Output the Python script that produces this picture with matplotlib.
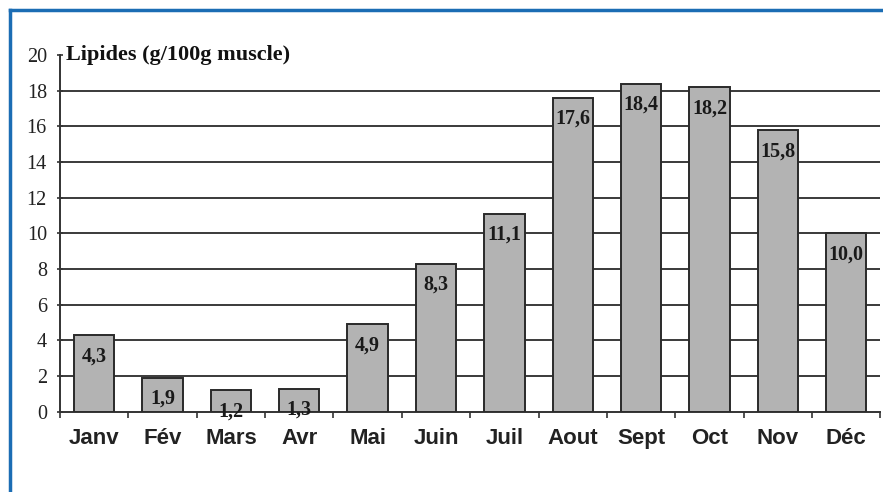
import matplotlib.pyplot as plt
from matplotlib.lines import Line2D

months = ["Janv", "Fév", "Mars", "Avr", "Mai", "Juin", "Juil",
          "Aout", "Sept", "Oct", "Nov", "Déc"]
lipides = [4.3, 1.9, 1.2, 1.3, 4.9, 8.3, 11.1, 17.6, 18.4, 18.2, 15.8, 10.0]
y_ticks = [0, 2, 4, 6, 8, 10, 12, 14, 16, 18, 20]

fig = plt.figure(figsize=(8.83, 4.92), dpi=100)
ax = fig.add_axes([0.068, 0.163, 0.929, 0.725])

x = range(len(months))
ax.bar(x, lipides, width=0.59, color="#b3b3b3", edgecolor="#2a2a2a",
       linewidth=1.4, zorder=3)

# value labels just under the top of each bar
for xi, v in zip(x, lipides):
    ax.annotate(f"{v:.1f}".replace(".", ","), (xi, v), xytext=(0, -8),
                textcoords="offset points", ha="center", va="top",
                fontsize=14.5, fontweight="bold", family="Liberation Serif",
                color="#1a1a1a", zorder=4)

ax.set_xlim(-0.5, len(months) - 0.5)
ax.set_ylim(0, 20)
ax.set_yticks(y_ticks)
ax.set_yticklabels([str(t) for t in y_ticks], family="Liberation Serif",
                   fontsize=14.5, color="#222222")
for t in y_ticks[1:-1]:
    ax.axhline(t, color="#3a3a3a", lw=1.4, zorder=1)

# ticks between categories, labels centred under bars
ax.set_xticks([i - 0.5 for i in range(len(months) + 1)])
ax.set_xticklabels([])
ax.set_xticks(list(x), minor=True)
ax.set_xticklabels(months, minor=True, family="Liberation Sans",
                   fontweight="bold", fontsize=16, color="#222222")
ax.tick_params(axis="x", which="minor", length=0, pad=12)
ax.tick_params(axis="x", which="major", length=4, width=1.2, color="#333333")
ax.tick_params(axis="y", length=5, width=1.2, color="#333333", direction="inout",
               pad=7)

for side in ["top", "right"]:
    ax.spines[side].set_visible(False)
for side in ["left", "bottom"]:
    ax.spines[side].set_color("#333333")
    ax.spines[side].set_linewidth(1.4)

ax.text(-0.41, 20, "Lipides (g/100g muscle)", ha="left", va="center",
        family="Liberation Serif", fontweight="bold", fontsize=16,
        color="#111111")

# blue frame (top and left)
fig.add_artist(Line2D([10 / 883, 1], [1 - 10 / 492, 1 - 10 / 492],
                      transform=fig.transFigure, color="#1b6db4", lw=2.5))
fig.add_artist(Line2D([10 / 883, 10 / 883], [0, 1 - 10 / 492],
                      transform=fig.transFigure, color="#1b6db4", lw=2.5))

fig.savefig("out.png", dpi=100)
